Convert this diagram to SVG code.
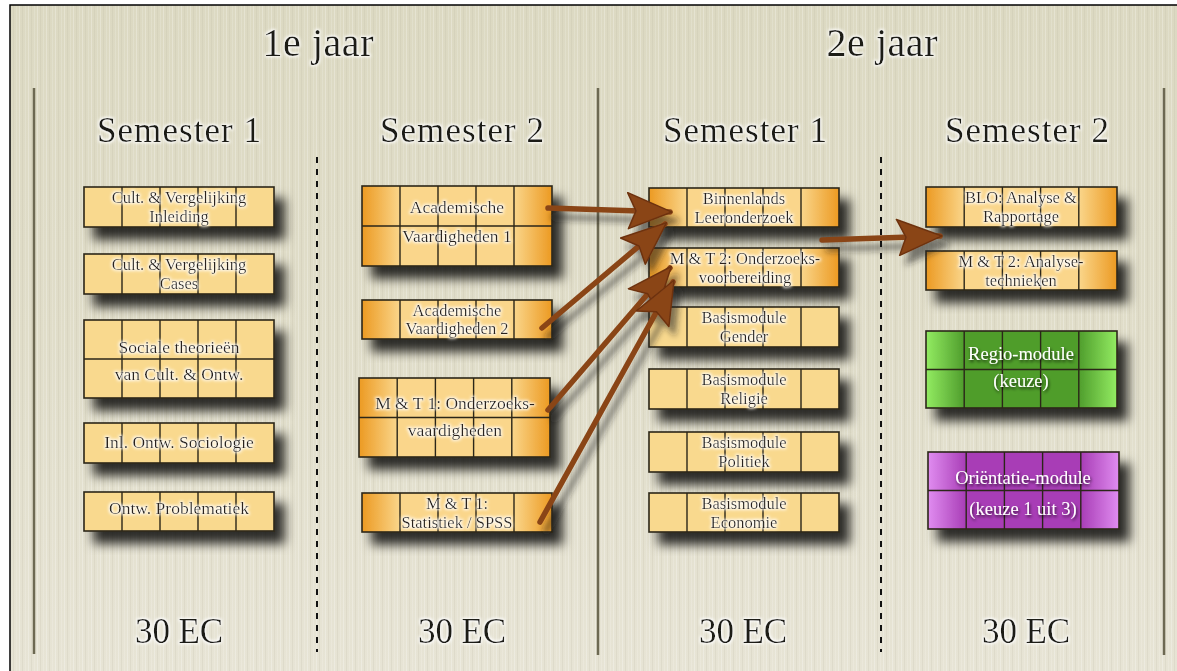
<svg xmlns="http://www.w3.org/2000/svg" width="1177" height="671" viewBox="0 0 1177 671">
<defs>
<linearGradient id="bg" x1="0" y1="0" x2="0" y2="1">
<stop offset="0" stop-color="#dcd9c2"/>
<stop offset="0.5" stop-color="#e0ddc9"/>
<stop offset="1" stop-color="#e7e4d5"/>
</linearGradient>
<pattern id="tex" width="9" height="40" patternUnits="userSpaceOnUse">
<rect x="1" y="0" width="1" height="40" fill="#ffffff" opacity="0.25"/>
<rect x="4" y="0" width="1" height="40" fill="#b8b39a" opacity="0.18"/>
<rect x="7" y="0" width="1" height="40" fill="#ffffff" opacity="0.15"/>
</pattern>
<linearGradient id="gOr" x1="0" y1="0" x2="1" y2="0">
<stop offset="0" stop-color="#ec9a22"/>
<stop offset="0.2" stop-color="#fad68b"/>
<stop offset="0.8" stop-color="#fad68b"/>
<stop offset="1" stop-color="#ec9a22"/>
</linearGradient>
<linearGradient id="gGr" x1="0" y1="0" x2="1" y2="0">
<stop offset="0" stop-color="#93ec62"/>
<stop offset="0.2" stop-color="#4f9d2c"/>
<stop offset="0.8" stop-color="#4f9d2c"/>
<stop offset="1" stop-color="#93ec62"/>
</linearGradient>
<linearGradient id="gPu" x1="0" y1="0" x2="1" y2="0">
<stop offset="0" stop-color="#e08cf0"/>
<stop offset="0.2" stop-color="#a83db6"/>
<stop offset="0.8" stop-color="#a83db6"/>
<stop offset="1" stop-color="#e08cf0"/>
</linearGradient>
<filter id="shadow" x="-20%" y="-30%" width="150%" height="190%">
<feDropShadow dx="10" dy="12" stdDeviation="5.5" flood-color="#000" flood-opacity="0.8"/>
</filter>
<filter id="ashadow" x="-20%" y="-20%" width="150%" height="150%">
<feDropShadow dx="6" dy="9" stdDeviation="3" flood-color="#222" flood-opacity="0.55"/>
</filter>
<filter id="glow" x="-10%" y="-30%" width="120%" height="160%">
<feMorphology in="SourceAlpha" operator="dilate" radius="1" result="d"/>
<feGaussianBlur in="d" stdDeviation="1.6" result="b"/>
<feFlood flood-color="#ffffff" flood-opacity="0.95"/>
<feComposite in2="b" operator="in" result="g"/>
<feMerge><feMergeNode in="g"/><feMergeNode in="SourceGraphic"/></feMerge>
</filter>
<filter id="dglow" x="-10%" y="-30%" width="120%" height="160%">
<feGaussianBlur in="SourceAlpha" stdDeviation="1.5" result="b"/>
<feOffset in="b" dx="1" dy="2" result="o"/>
<feFlood flood-color="#000" flood-opacity="0.7"/>
<feComposite in2="o" operator="in" result="g"/>
<feMerge><feMergeNode in="g"/><feMergeNode in="SourceGraphic"/></feMerge>
</filter>
<marker id="ah" markerUnits="userSpaceOnUse" markerWidth="48" markerHeight="38" viewBox="0 0 48 38" refX="44" refY="19" orient="auto">
<path d="M1,1 L46,19 L3,37 L10,19 Z" fill="#8a4519" stroke="#6e3310" stroke-width="1.5" stroke-linejoin="round"/>
</marker>
<style>
.box{stroke:#2b2618;stroke-width:1.6}
.flat{fill:#f9d98e}
.or{fill:url(#gOr)}
.gr{fill:url(#gGr)}
.pu{fill:url(#gPu)}
.grid{stroke:#2b2618;stroke-width:1.4;fill:none}
.t{font-family:"Liberation Serif","Times New Roman",serif;font-size:16.5px;fill:#2a241a;text-anchor:middle;filter:url(#glow)}
.tb{font-size:17.5px}
.tw{font-family:"Liberation Serif","Times New Roman",serif;font-size:18.5px;fill:#ffffff;text-anchor:middle;filter:url(#dglow)}
.h1{font-family:"Liberation Serif","Times New Roman",serif;font-size:40px;fill:#1c1a14;text-anchor:middle;filter:url(#glow)}
.h2{font-family:"Liberation Serif","Times New Roman",serif;font-size:35px;fill:#1c1a14;text-anchor:middle;filter:url(#glow)}
.vl{stroke:#6d6952;stroke-width:2.5}
.dl{stroke:#111;stroke-width:2;stroke-dasharray:6 6}
.arr{fill:none;stroke:#8a4519;stroke-width:5.5;stroke-linecap:round;marker-end:url(#ah)}
</style>
</defs>

<rect x="0" y="0" width="1177" height="671" fill="#ffffff"/>
<rect x="10" y="5" width="1167" height="666" fill="url(#bg)"/>
<rect x="10" y="5" width="1167" height="666" fill="url(#tex)"/>
<path d="M10,671 L10,5 L1177,5" fill="none" stroke="#000" stroke-width="1.5"/>

<g id="dividers">
<line class="vl" x1="34" y1="88" x2="34" y2="654"/>
<line class="vl" x1="598" y1="88" x2="598" y2="655"/>
<line class="vl" x1="1164" y1="88" x2="1164" y2="655"/>
<line class="dl" x1="317" y1="157" x2="317" y2="652"/>
<line class="dl" x1="881" y1="157" x2="881" y2="652"/>
</g>

<g id="headings">
<text class="h1" x="318" y="56" textLength="111">1e jaar</text>
<text class="h1" x="882" y="56" textLength="111">2e jaar</text>
<text class="h2" x="179" y="142" textLength="164">Semester 1</text>
<text class="h2" x="462" y="142" textLength="164">Semester 2</text>
<text class="h2" x="745" y="142" textLength="164">Semester 1</text>
<text class="h2" x="1027" y="142" textLength="164">Semester 2</text>
<text class="h2" x="179" y="643" textLength="88">30 EC</text>
<text class="h2" x="462" y="643" textLength="88">30 EC</text>
<text class="h2" x="743" y="643" textLength="88">30 EC</text>
<text class="h2" x="1026" y="643" textLength="88">30 EC</text>
</g>

<!-- Column 1 -->
<g id="n1">
<rect class="box flat" x="84" y="187" width="190" height="40" filter="url(#shadow)"/>
<path class="grid" d="M122,187V227M160,187V227M198,187V227M236,187V227"/>
<text class="t" x="179" y="203">Cult. &amp; Vergelijking</text>
<text class="t" x="179" y="221.5">Inleiding</text>
</g>
<g id="n2">
<rect class="box flat" x="84" y="254" width="190" height="40" filter="url(#shadow)"/>
<path class="grid" d="M122,254V294M160,254V294M198,254V294M236,254V294"/>
<text class="t" x="179" y="270">Cult. &amp; Vergelijking</text>
<text class="t" x="179" y="288.5">Cases</text>
</g>
<g id="n3">
<rect class="box flat" x="84" y="320" width="190" height="78" filter="url(#shadow)"/>
<path class="grid" d="M122,320V398M160,320V398M198,320V398M236,320V398M84,359H274"/>
<text class="t tb" x="179" y="353">Sociale theorieën</text>
<text class="t tb" x="179" y="380">van Cult. &amp; Ontw.</text>
</g>
<g id="n4">
<rect class="box flat" x="84" y="423" width="190" height="40" filter="url(#shadow)"/>
<path class="grid" d="M122,423V463M160,423V463M198,423V463M236,423V463"/>
<text class="t tb" x="179" y="448">Inl. Ontw. Sociologie</text>
</g>
<g id="n5">
<rect class="box flat" x="84" y="492" width="190" height="39" filter="url(#shadow)"/>
<path class="grid" d="M122,492V531M160,492V531M198,492V531M236,492V531"/>
<text class="t tb" x="179" y="514">Ontw. Problematiek</text>
</g>

<!-- Column 2 -->
<g id="n6">
<rect class="box or" x="362" y="186" width="190" height="80" filter="url(#shadow)"/>
<path class="grid" d="M400,186V266M438,186V266M476,186V266M514,186V266M362,226H552"/>
<text class="t tb" x="457" y="213">Academische</text>
<text class="t tb" x="457" y="242">Vaardigheden 1</text>
</g>
<g id="n7">
<rect class="box or" x="362" y="300" width="190" height="39" filter="url(#shadow)"/>
<path class="grid" d="M400,300V339M438,300V339M476,300V339M514,300V339"/>
<text class="t" x="457" y="315.5">Academische</text>
<text class="t" x="457" y="334">Vaardigheden 2</text>
</g>
<g id="n8">
<rect class="box or" x="359" y="378" width="191" height="79" filter="url(#shadow)"/>
<path class="grid" d="M397.2,378V457M435.4,378V457M473.6,378V457M511.8,378V457M359,417.5H550"/>
<text class="t tb" x="455" y="409">M &amp; T 1: Onderzoeks-</text>
<text class="t tb" x="455" y="436">vaardigheden</text>
</g>
<g id="n9">
<rect class="box or" x="362" y="493" width="190" height="39" filter="url(#shadow)"/>
<path class="grid" d="M400,493V532M438,493V532M476,493V532M514,493V532"/>
<text class="t" x="457" y="509">M &amp; T 1:</text>
<text class="t" x="457" y="527.5">Statistiek / SPSS</text>
</g>

<!-- Column 3 -->
<g id="n10">
<rect class="box or" x="649" y="188" width="190" height="39" filter="url(#shadow)"/>
<path class="grid" d="M687,188V227M725,188V227M763,188V227M801,188V227"/>
<text class="t" x="744" y="204">Binnenlands</text>
<text class="t" x="744" y="222.5">Leeronderzoek</text>
</g>
<g id="n11">
<rect class="box or" x="649" y="248" width="190" height="39" filter="url(#shadow)"/>
<path class="grid" d="M687,248V287M725,248V287M763,248V287M801,248V287"/>
<text class="t" x="745" y="264">M &amp; T 2: Onderzoeks-</text>
<text class="t" x="745" y="282.5">voorbereiding</text>
</g>
<g id="n12">
<rect class="box flat" x="649" y="307" width="190" height="40" filter="url(#shadow)"/>
<path class="grid" d="M687,307V347M725,307V347M763,307V347M801,307V347"/>
<text class="t" x="744" y="323">Basismodule</text>
<text class="t" x="744" y="341.5">Gender</text>
</g>
<g id="n13">
<rect class="box flat" x="649" y="369" width="190" height="40" filter="url(#shadow)"/>
<path class="grid" d="M687,369V409M725,369V409M763,369V409M801,369V409"/>
<text class="t" x="744" y="385">Basismodule</text>
<text class="t" x="744" y="403.5">Religie</text>
</g>
<g id="n14">
<rect class="box flat" x="649" y="432" width="190" height="40" filter="url(#shadow)"/>
<path class="grid" d="M687,432V472M725,432V472M763,432V472M801,432V472"/>
<text class="t" x="744" y="448">Basismodule</text>
<text class="t" x="744" y="466.5">Politiek</text>
</g>
<g id="n15">
<rect class="box flat" x="649" y="493" width="190" height="39" filter="url(#shadow)"/>
<path class="grid" d="M687,493V532M725,493V532M763,493V532M801,493V532"/>
<text class="t" x="744" y="509">Basismodule</text>
<text class="t" x="744" y="527.5">Economie</text>
</g>

<!-- Column 4 -->
<g id="n16">
<rect class="box or" x="926" y="187" width="191" height="40" filter="url(#shadow)"/>
<path class="grid" d="M964.2,187V227M1002.4,187V227M1040.6,187V227M1078.8,187V227"/>
<text class="t" x="1021" y="203">BLO: Analyse &amp;</text>
<text class="t" x="1021" y="221.5">Rapportage</text>
</g>
<g id="n17">
<rect class="box or" x="926" y="251" width="191" height="39" filter="url(#shadow)"/>
<path class="grid" d="M964.2,251V290M1002.4,251V290M1040.6,251V290M1078.8,251V290"/>
<text class="t" x="1021" y="267">M &amp; T 2: Analyse-</text>
<text class="t" x="1021" y="285.5">technieken</text>
</g>
<g id="n18">
<rect class="box gr" x="926" y="331" width="191" height="77" filter="url(#shadow)"/>
<path class="grid" d="M964.2,331V408M1002.4,331V408M1040.6,331V408M1078.8,331V408M926,369.5H1117"/>
<text class="tw" x="1021" y="360">Regio-module</text>
<text class="tw" x="1021" y="387">(keuze)</text>
</g>
<g id="n19">
<rect class="box pu" x="928" y="452" width="191" height="77" filter="url(#shadow)"/>
<path class="grid" d="M966.2,452V529M1004.4,452V529M1042.6,452V529M1080.8,452V529M928,490.5H1119"/>
<text class="tw" x="1023" y="484">Oriëntatie-module</text>
<text class="tw" x="1023" y="515">(keuze 1 uit 3)</text>
</g>

<g id="connectors" filter="url(#ashadow)">
<path class="arr" d="M548,208 L670,212"/>
<path class="arr" d="M542,328 L665,224"/>
<path class="arr" d="M548,410 L670,268"/>
<path class="arr" d="M540,522 L673,282"/>
<path class="arr" d="M822,240 L940,236"/>
</g>
</svg>
